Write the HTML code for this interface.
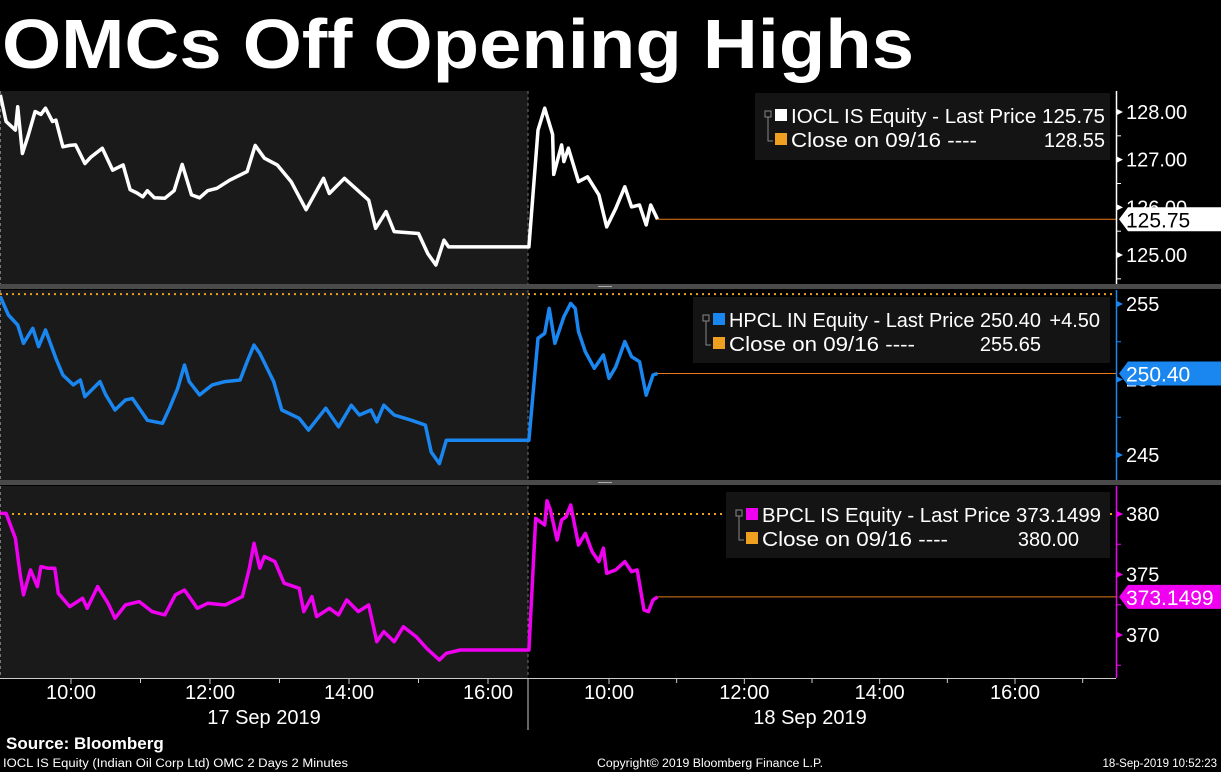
<!DOCTYPE html>
<html><head><meta charset="utf-8"><style>
html,body{margin:0;padding:0;background:#000;width:1221px;height:772px;overflow:hidden}
svg{display:block}
text{font-family:"Liberation Sans",sans-serif}
</style></head><body>
<svg id="chart" width="1221" height="772" viewBox="0 0 1221 772" xmlns="http://www.w3.org/2000/svg">
<text x="2" y="68" font-size="70" font-weight="bold" fill="#fff" textLength="912" lengthAdjust="spacingAndGlyphs">OMCs Off Opening Highs</text>
<g id="panels"></g>
<g id="xaxis"></g>
<text x="6" y="749" font-size="17" font-weight="bold" fill="#fff">Source: Bloomberg</text>
<text x="3" y="767" font-size="11.5" fill="#fff" textLength="345" lengthAdjust="spacingAndGlyphs">IOCL IS Equity (Indian Oil Corp Ltd) OMC 2 Days 2 Minutes</text>
<text x="597" y="767" font-size="11.5" fill="#fff" textLength="226" lengthAdjust="spacingAndGlyphs">Copyright© 2019 Bloomberg Finance L.P.</text>
<text x="1217" y="767" font-size="11.5" fill="#fff" text-anchor="end">18-Sep-2019 10:52:23</text>
</svg>
<script>
// ---- data (times in minutes after midnight) ----
const ioclD1T=[539,544,552,554,558,563,569,574,578,584,587,593,599,604,612,617,627,636,645,651,657,662,666,672,681,689,696,704,711,718,726,737,752,759,767,778,790,803,818,823,836,857,863,872,879,900,908,915,922,926,994];
const ioclD1V=[128.36,127.8,127.62,128.11,127.13,127.5,128.01,127.95,128.08,127.8,127.83,127.27,127.3,127.31,126.92,127.05,127.24,126.78,126.89,126.37,126.3,126.22,126.35,126.2,126.19,126.35,126.9,126.26,126.2,126.35,126.4,126.57,126.75,127.3,127.03,126.89,126.54,125.95,126.61,126.29,126.61,126.15,125.56,125.91,125.49,125.45,125.03,124.79,125.31,125.17,125.17];
const ioclD2T=[529,537,543,550,551,558,560,564,573,581,591,598,606,614,620,627,633,637,643];
const ioclD2V=[125.17,127.62,128.08,127.53,126.69,127.31,126.96,127.24,126.54,126.64,126.26,125.59,125.98,126.43,126.01,126.05,125.63,126.05,125.75];
const hpclD1T=[539,546,554,559,567,572,578,587,593,602,608,612,625,630,638,647,653,666,679,685,692,698,702,711,722,733,746,752,758,763,775,782,797,805,820,831,842,849,859,864,870,879,894,906,911,918,924,936,994];
const hpclD1V=[255.49,254.27,253.61,252.4,253.39,252.18,253.28,251.4,250.3,249.64,249.97,248.86,249.86,248.98,247.98,248.64,248.75,247.3,247.1,248.1,249.4,250.96,249.86,248.98,249.64,249.86,249.97,251.18,252.28,251.73,249.86,247.98,247.43,246.65,248.1,246.87,248.3,247.65,247.98,247.2,248.3,247.65,247.3,246.98,245.2,244.43,245.98,245.98,245.98];
const hpclD2T=[529,537,543,547,552,560,566,570,573,579,587,595,600,606,614,620,627,633,639,643];
const hpclD2V=[245.98,252.73,253.06,254.71,252.4,254.16,255.04,254.71,253.17,251.84,250.74,251.62,250.08,250.85,252.51,251.51,251.18,248.97,250.3,250.4];
const bpclD1T=[539,544,552,556,559,565,571,574,580,586,589,599,610,614,623,632,638,647,659,670,681,690,698,709,718,733,748,754,758,763,767,776,784,797,801,808,812,823,831,838,848,857,864,870,879,887,898,907,918,924,936,994];
const bpclD1V=[380.05,380.05,377.99,375.1,373.31,375.38,374.0,375.65,375.52,375.52,373.45,372.35,373.04,372.21,374.0,372.62,371.38,372.48,372.76,371.93,371.66,373.31,373.72,372.21,372.62,372.48,373.17,375.52,377.58,375.52,376.49,376.07,374.28,373.86,371.93,373.17,371.52,372.21,371.66,372.9,371.93,372.48,369.45,370.28,369.45,370.69,369.86,368.9,367.93,368.49,368.76,368.76];
const bpclD2T=[529,535,543,545,548,554,558,562,566,573,579,585,591,595,598,606,614,620,625,631,635,639,643];
const bpclD2V=[368.76,379.64,379.09,381.1,380.33,377.85,379.5,379.78,380.74,377.44,378.4,376.89,376.07,377.17,375.1,375.38,376.07,375.24,375.38,372.07,371.93,372.9,373.15];
const ioclTicks=[128,127,126,125];
const hpclTicks=[255,250,245];
const bpclTicks=[380,375,370];
const xTickLabels=["10:00","12:00","14:00","16:00"];
const xTickTimes=[600,720,840,960];
const dayLabels=["17 Sep 2019","18 Sep 2019"];

// ---- scales ----
const NS="http://www.w3.org/2000/svg";
const XB=528, XR=1116;
function xDay1(t){return 1.5+(t-540)*69.5/60;}
function xDay2(t){return 609+(t-600)*(1015-609)/360;}
function mk(tag,attrs,parent){const e=document.createElementNS(NS,tag);for(const k in attrs)e.setAttribute(k,attrs[k]);parent.appendChild(e);return e;}
const panelsG=document.getElementById('panels');

const panels=[
 {key:'iocl',top:91,bot:284,v1:128,y1:112,v2:125,y2:255,color:'#ffffff',d1t:ioclD1T,d1v:ioclD1V,d2t:ioclD2T,d2v:ioclD2V,last:125.75,lastTxt:'125.75',close:128.55,ticks:ioclTicks,fmt:v=>v.toFixed(2),tagText:'#000',
  leg:{x:755,y:93,w:355,h:67,l1:'IOCL IS Equity - Last Price 125.75',l1w:314,chg:'',v2:'128.55',v2r:1105}},
 {key:'hpcl',top:290,bot:480,v1:255,y1:304,v2:245,y2:455,color:'#1a86f0',d1t:hpclD1T,d1v:hpclD1V,d2t:hpclD2T,d2v:hpclD2V,last:250.40,lastTxt:'250.40',close:255.65,ticks:hpclTicks,fmt:v=>String(v),tagText:'#fff',
  leg:{x:693,y:297,w:417,h:66,l1:'HPCL IN Equity - Last Price 250.40',l1w:312,chg:'+4.50',v2:'255.65',v2r:1041}},
 {key:'bpcl',top:486,bot:678,v1:380,y1:514,v2:370,y2:635,color:'#f000f0',d1t:bpclD1T,d1v:bpclD1V,d2t:bpclD2T,d2v:bpclD2V,last:373.1499,lastTxt:'373.1499',close:380.00,ticks:bpclTicks,fmt:v=>String(v),tagText:'#fff',
  leg:{x:726,y:492,w:384,h:66,l1:'BPCL IS Equity - Last Price 373.1499',l1w:339,chg:'',v2:'380.00',v2r:1079}}
];

panels.forEach(p=>{
  const yS=v=>p.y1+(p.v1-v)*(p.y2-p.y1)/(p.v1-p.v2);
  const g=mk('g',{},panelsG);
  
  
  const cid='clip-'+p.key;
  const cp=mk('clipPath',{id:cid},g);mk('rect',{x:0,y:p.top,width:XR,height:p.bot-p.top},cp);
  const bg=mk('rect',{x:0,y:p.top,width:XB,height:p.bot-p.top,fill:'#1a1a1a'},g);
  
  
  mk('line',{x1:XB,y1:p.top,x2:XB,y2:p.bot,stroke:'#777','stroke-dasharray':'3,3','stroke-width':1},g);
  mk('line',{x1:0.5,y1:p.top,x2:0.5,y2:p.bot,stroke:'#777','stroke-dasharray':'3,3','stroke-width':1},g);
  const cy=yS(p.close);
  if(cy>p.top && cy<p.bot){
    const cl=mk('line',{x1:0,y1:cy,x2:XR,y2:cy,stroke:'#f0a020','stroke-width':2,'stroke-dasharray':'2,4'},g);
    
    
  }
  let d='';
  p.d1t.forEach((t,i)=>{d+=(i?'L':'M')+xDay1(t).toFixed(1)+','+yS(p.d1v[i]).toFixed(1);});
  p.d2t.forEach((t,i)=>{d+='L'+xDay2(t).toFixed(1)+','+yS(p.d2v[i]).toFixed(1);});
  const path=mk('path',{d:d,fill:'none',stroke:p.color,'stroke-width':3.5,'stroke-linejoin':'round','clip-path':'url(#'+cid+')'},g);
  
  
  const lx=xDay2(p.d2t[p.d2t.length-1]);
  const ly=yS(p.last);
  const ll=mk('line',{x1:lx,y1:ly,x2:XR,y2:ly,stroke:'#e87a1a','stroke-width':1},g);
  
  
  const ax=mk('line',{x1:XR+0.5,y1:p.top,x2:XR+0.5,y2:p.bot,stroke:p.color,'stroke-width':1.5},g);
  
  
  p.ticks.forEach(v=>{
    const ty=yS(v);
    mk('path',{d:`M${XR+1},${ty-3}L${XR+7},${ty}L${XR+1},${ty+3}Z`,fill:p.color},g);
    const tt=mk('text',{x:XR+10,y:ty+7,'font-size':20,fill:'#fff'},g);
    tt.textContent=p.fmt(v);
    
    
  });
  const step=(p.ticks[0]-p.ticks[1])/2;
  for(let v=p.ticks[0]+step;v>=p.ticks[p.ticks.length-1]-step;v-=step){
    const ty=yS(v); if(ty>p.top+2&&ty<p.bot-2) mk('line',{x1:XR,y1:ty,x2:XR+5,y2:ty,stroke:p.color},g);
  }
  const tg=mk('g',{},g);
  
  
  mk('path',{d:`M${XR+3},${ly}L${XR+12},${ly-12}H1221V${ly+12}H${XR+12}Z`,fill:p.color},tg);
  const lt=mk('text',{x:XR+10,y:ly+8,'font-size':21,fill:p.tagText},tg);
  lt.textContent=p.lastTxt;
  const L=p.leg;
  const lg=mk('g',{},g);
  
  
  mk('rect',{x:L.x,y:L.y,width:L.w,height:L.h,fill:'#141414'},lg);
  mk('rect',{x:L.x+10,y:L.y+18,width:6,height:6,fill:'none',stroke:'#888','stroke-width':1},lg);
  mk('path',{d:`M${L.x+13},${L.y+24}V${L.y+48}H${L.x+18}`,fill:'none',stroke:'#888'},lg);
  mk('rect',{x:L.x+20,y:L.y+16,width:12,height:12,fill:p.color},lg);
  mk('rect',{x:L.x+20,y:L.y+40,width:12,height:12,fill:'#f0a020'},lg);
  const t1=mk('text',{x:L.x+36,y:L.y+30,'font-size':20,fill:'#fff',textLength:L.l1w,lengthAdjust:'spacingAndGlyphs'},lg);
  t1.textContent=L.l1;
  if(L.chg){
    const tc=mk('text',{x:L.x+L.w-10,y:L.y+30,'font-size':20,fill:'#fff','text-anchor':'end'},lg);
    tc.textContent=L.chg;
  }
  const t2=mk('text',{x:L.x+36,y:L.y+54,'font-size':20,fill:'#fff',textLength:186,lengthAdjust:'spacingAndGlyphs'},lg);
  t2.textContent='Close on 09/16 ----';
  const t3=mk('text',{x:L.v2r,y:L.y+54,'font-size':20,fill:'#fff','text-anchor':'end'},lg);
  t3.textContent=L.v2;
});
[[284,290],[480,486]].forEach(s=>{
  const r=mk('rect',{x:0,y:s[0],width:1221,height:s[1]-s[0]-1,fill:'#4a4a4a'},panelsG);
  
  
  mk('line',{x1:598,y1:s[0]+2.5,x2:612,y2:s[0]+2.5,stroke:'#aaa'},panelsG);
});
const xa=document.getElementById('xaxis');
mk('line',{x1:0,y1:678.5,x2:XR,y2:678.5,stroke:'#ccc'},xa);
mk('line',{x1:XB,y1:678,x2:XB,y2:730,stroke:'#ccc'},xa);
[xDay1,xDay2].forEach((fx,di)=>{
  xTickTimes.forEach((t,i)=>{
    const x=fx(t);
    mk('line',{x1:x,y1:679,x2:x,y2:684,stroke:'#ccc'},xa);
    const tl=mk('text',{x:x,y:699,'font-size':20,fill:'#fff','text-anchor':'middle'},xa);
    tl.textContent=xTickLabels[i];
    
    
    const xm=fx(t+60);
    if(xm<(di?XR:XB)) mk('line',{x1:xm,y1:679,x2:xm,y2:683,stroke:'#ccc'},xa);
  });
  const dl=mk('text',{x:di?810:264,y:724,'font-size':20,fill:'#fff','text-anchor':'middle'},xa);
  dl.textContent=dayLabels[di];
  
  
});
</script>
</body></html>
